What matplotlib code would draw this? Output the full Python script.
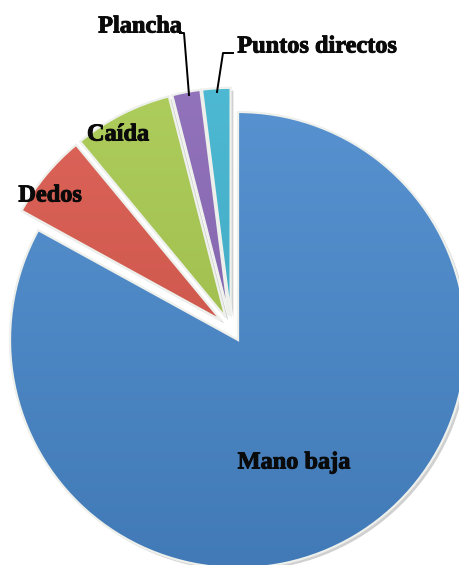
import matplotlib
matplotlib.use("Agg")
import matplotlib.pyplot as plt
import matplotlib.patheffects as pe
import matplotlib.colors as mcolors
import numpy as np
import copy

# Data
categories = ["Puntos directos", "Plancha", "Caída", "Dedos", "Mano baja"]
values = [2, 2, 7, 6, 83]
colors = ["#3FB6D3", "#8A68B9", "#A9CC4E", "#DE584C", "#4A8BD0"]

W, H = 460, 565
fig = plt.figure(figsize=(W / 100, H / 100), dpi=100)
ax = fig.add_axes([0, 0, 1, 1])

# pie geometry (pixels)
R = 228.0
cx, cy = 231.4, 328.8

wedges, _ = ax.pie(values, colors=colors, startangle=90, counterclock=True,
                   explode=[0.057] * len(values), radius=1.0,
                   wedgeprops=dict(edgecolor="none", linewidth=0))

ax.set_xlim(-cx / R, (W - cx) / R)
ax.set_ylim(-(H - cy) / R, cy / R)
ax.set_aspect("equal", adjustable="box")
ax.axis("off")

x0, x1 = ax.get_xlim()
y0, y1 = ax.get_ylim()

def shade(c, f):
    r, g, b = mcolors.to_rgb(c)
    if f >= 0:
        return (r + (1 - r) * f, g + (1 - g) * f, b + (1 - b) * f)
    return (r * (1 + f), g * (1 + f), b * (1 + f))

for w, c in zip(wedges, colors):
    w.set_path_effects([pe.SimplePatchShadow(offset=(2, -2), alpha=0.25, shadow_rgbFace="#444444"),
                        pe.Normal()])
    w.set_zorder(1)
    # vertical gradient within the wedge
    top = np.array(shade(c, 0.10))
    bot = np.array(shade(c, -0.12))
    t = np.linspace(0, 1, 256)[:, None]
    grad = (top[None, :] * (1 - t) + bot[None, :] * t)[:, None, :]
    grad = np.repeat(grad, 2, axis=1)
    im = ax.imshow(grad, extent=(x0, x1, y0, y1), origin="upper", aspect="auto",
                   zorder=2, interpolation="bilinear")
    im.set_clip_path(w)
    # edge outline on top
    e = copy.copy(w)
    ep = plt.matplotlib.patches.PathPatch(w.get_path(), transform=w.get_transform(),
                                          facecolor="none", edgecolor="#EEF0EC", linewidth=1.6, zorder=3)
    ax.add_patch(ep)

ax.set_xlim(x0, x1)
ax.set_ylim(y0, y1)

# labels (pixel positions)
label_pos = {
    "Puntos directos": (317, 47),
    "Plancha": (140, 27),
    "Caída": (118, 135),
    "Dedos": (50, 196),
    "Mano baja": (294, 463),
}
font = dict(family=["Liberation Serif", "DejaVu Serif"], fontweight="bold", fontsize=17.5, color="#0a0a0a")
for name in categories:
    px, py = label_pos[name]
    txt = fig.text(px / W, 1 - py / H, name, ha="center", va="center", **font)
    txt.set_path_effects([pe.withStroke(linewidth=0.7, foreground="#0a0a0a")])

# leader lines (pixels)
leaders = [
    [(180, 33), (184, 33), (189, 95)],
    [(233, 53), (223, 53), (217, 92)],
]
for pts in leaders:
    xs = [p[0] / W for p in pts]
    ys = [1 - p[1] / H for p in pts]
    fig.add_artist(plt.Line2D(xs, ys, transform=fig.transFigure, color="black", linewidth=1.4))

fig.savefig("out.png", dpi=100)
